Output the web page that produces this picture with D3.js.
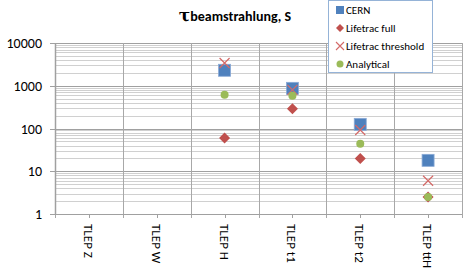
<!DOCTYPE html>
<meta charset="utf-8">
<style>
  body { margin: 0; background: white; }
  svg text { font-family: Carlito, Calibri, "Liberation Sans", sans-serif; fill: #000; }
</style>
<body>
<script src="https://cdn.jsdelivr.net/npm/d3@7"></script>
<script>
var categories = ["TLEP Z", "TLEP W", "TLEP H", "TLEP t1", "TLEP t2", "TLEP ttH"];
var cern      = [null, null, 2300, 870, 125, 18];
var lifeFull  = [null, null, 60, 290, 20, 2.5];
var lifeThr   = [null, null, 3400, 800, 92, 6];
var analytic  = [null, null, 620, 580, 44, 2.5];
var yTicks = [1, 10, 100, 1000, 10000];

var w = 471, h = 273;
var pLeft = 55, pRight = 462, pTop = 43, pBottom = 214;

var svg = d3.select("body").append("svg").attr("width", w).attr("height", h);

var x = d3.scaleBand().domain(categories).range([pLeft, pRight]);
var y = d3.scaleLog().domain([1, 10000]).range([pBottom, pTop]);

// minor gridlines
var minor = [];
for (var e = 0; e < 4; e++) for (var m = 2; m <= 9; m++) minor.push(m * Math.pow(10, e));
svg.selectAll(".minor").data(minor).enter().append("line")
  .attr("x1", pLeft).attr("x2", pRight)
  .attr("y1", function(d) { return Math.round(y(d)) + 0.5; })
  .attr("y2", function(d) { return Math.round(y(d)) + 0.5; })
  .attr("stroke", "#d0d0d0").attr("stroke-width", 1);

// major gridlines
svg.selectAll(".major").data(yTicks).enter().append("line")
  .attr("x1", pLeft).attr("x2", pRight)
  .attr("y1", function(d) { return Math.round(y(d)) + 0.5; })
  .attr("y2", function(d) { return Math.round(y(d)) + 0.5; })
  .attr("stroke", "#a0a0a0").attr("stroke-width", 1);

// vertical category gridlines
var vlines = categories.map(function(c) { return x(c); }).concat([pRight]);
svg.selectAll(".vline").data(vlines).enter().append("line")
  .attr("x1", function(d) { return Math.round(d) + 0.5; })
  .attr("x2", function(d) { return Math.round(d) + 0.5; })
  .attr("y1", pTop).attr("y2", pBottom + 4)
  .attr("stroke", "#a8a8a8");

// y axis
svg.append("line").attr("x1", pLeft + 0.5).attr("x2", pLeft + 0.5)
  .attr("y1", pTop).attr("y2", pBottom).attr("stroke", "#a0a0a0").attr("stroke-width", 1.5);
svg.selectAll(".ytick").data(yTicks).enter().append("line")
  .attr("x1", pLeft - 5).attr("x2", pLeft)
  .attr("y1", function(d) { return Math.round(y(d)) + 0.5; })
  .attr("y2", function(d) { return Math.round(y(d)) + 0.5; })
  .attr("stroke", "#a0a0a0");
svg.selectAll(".ylab").data(yTicks).enter().append("text")
  .attr("x", 42).attr("y", function(d) { return y(d) + 5; })
  .attr("text-anchor", "end").attr("font-size", 14)
  .text(function(d) { return d; });

// x axis
svg.append("line").attr("x1", pLeft).attr("x2", pRight)
  .attr("y1", pBottom + 0.5).attr("y2", pBottom + 0.5).attr("stroke", "#a0a0a0");
svg.selectAll(".xtick").data(categories).enter().append("line")
  .attr("x1", function(d) { return Math.round(x(d) + x.bandwidth() / 2) + 0.5; })
  .attr("x2", function(d) { return Math.round(x(d) + x.bandwidth() / 2) + 0.5; })
  .attr("y1", pBottom).attr("y2", pBottom + 4).attr("stroke", "#a0a0a0");
svg.selectAll(".xlab").data(categories).enter().append("text")
  .attr("transform", function(d) {
    return "translate(" + (x(d) + x.bandwidth() / 2 - 5) + "," + (pBottom + 10) + ") rotate(90)";
  })
  .attr("font-size", 13)
  .text(function(d) { return d; });

function cx(i) { return x(categories[i]) + x.bandwidth() / 2; }
function valid(arr) {
  return arr.map(function(v, i) { return {v: v, i: i}; }).filter(function(d) { return d.v != null; });
}

svg.selectAll(".cern").data(valid(cern)).enter().append("rect")
  .attr("x", function(d) { return cx(d.i) - 6; })
  .attr("y", function(d) { return y(d.v) - 6; })
  .attr("width", 12).attr("height", 12)
  .attr("fill", "#4f81bd").attr("stroke", "#8aaad6").attr("stroke-width", 0.8);

svg.selectAll(".full").data(valid(lifeFull)).enter().append("path")
  .attr("d", "M0,-5.5L5.5,0L0,5.5L-5.5,0Z")
  .attr("transform", function(d) { return "translate(" + cx(d.i) + "," + y(d.v) + ")"; })
  .attr("fill", "#c0504d");

svg.selectAll(".thr").data(valid(lifeThr)).enter().append("path")
  .attr("d", "M-5,-5L5,5M-5,5L5,-5")
  .attr("transform", function(d) { return "translate(" + cx(d.i) + "," + y(d.v) + ")"; })
  .attr("stroke", "#d46a68").attr("stroke-width", 1.2).attr("fill", "none");

svg.selectAll(".ana").data(valid(analytic)).enter().append("circle")
  .attr("cx", function(d) { return cx(d.i); })
  .attr("cy", function(d) { return y(d.v); })
  .attr("r", 4)
  .attr("fill", "#9bbb59");

// title
var title = svg.append("text").attr("x", 235).attr("y", 21)
  .attr("text-anchor", "middle").attr("font-weight", "bold").attr("font-size", 14);
title.append("tspan").attr("font-size", 17).attr("font-family", "'DejaVu Serif', serif").text("τ");
title.append("tspan").text("beamstrahlung, S");

// legend
var legend = svg.append("g");
legend.append("rect").attr("x", 328.5).attr("y", 0.5).attr("width", 104).attr("height", 72)
  .attr("fill", "white").attr("stroke", "#95b3d7");
var lg = [
  {name: "CERN", type: "sq"},
  {name: "Lifetrac full", type: "di"},
  {name: "Lifetrac threshold", type: "x"},
  {name: "Analytical", type: "ci"}
];
lg.forEach(function(d, i) {
  var ly = 10 + i * 18, lx = 340;
  if (d.type == "sq") legend.append("rect").attr("x", lx - 4).attr("y", ly - 4).attr("width", 8).attr("height", 8).attr("fill", "#4f81bd");
  if (d.type == "di") legend.append("path").attr("d", "M0,-4L4,0L0,4L-4,0Z").attr("transform", "translate(" + lx + "," + ly + ")").attr("fill", "#c0504d");
  if (d.type == "x") legend.append("path").attr("d", "M-4,-4L4,4M-4,4L4,-4").attr("transform", "translate(" + lx + "," + ly + ")").attr("stroke", "#d46a68").attr("stroke-width", 1.1);
  if (d.type == "ci") legend.append("circle").attr("cx", lx).attr("cy", ly).attr("r", 3.5).attr("fill", "#9bbb59");
  legend.append("text").attr("x", lx + 6).attr("y", ly + 4).attr("font-size", 11).text(d.name);
});
</script>
</body>
